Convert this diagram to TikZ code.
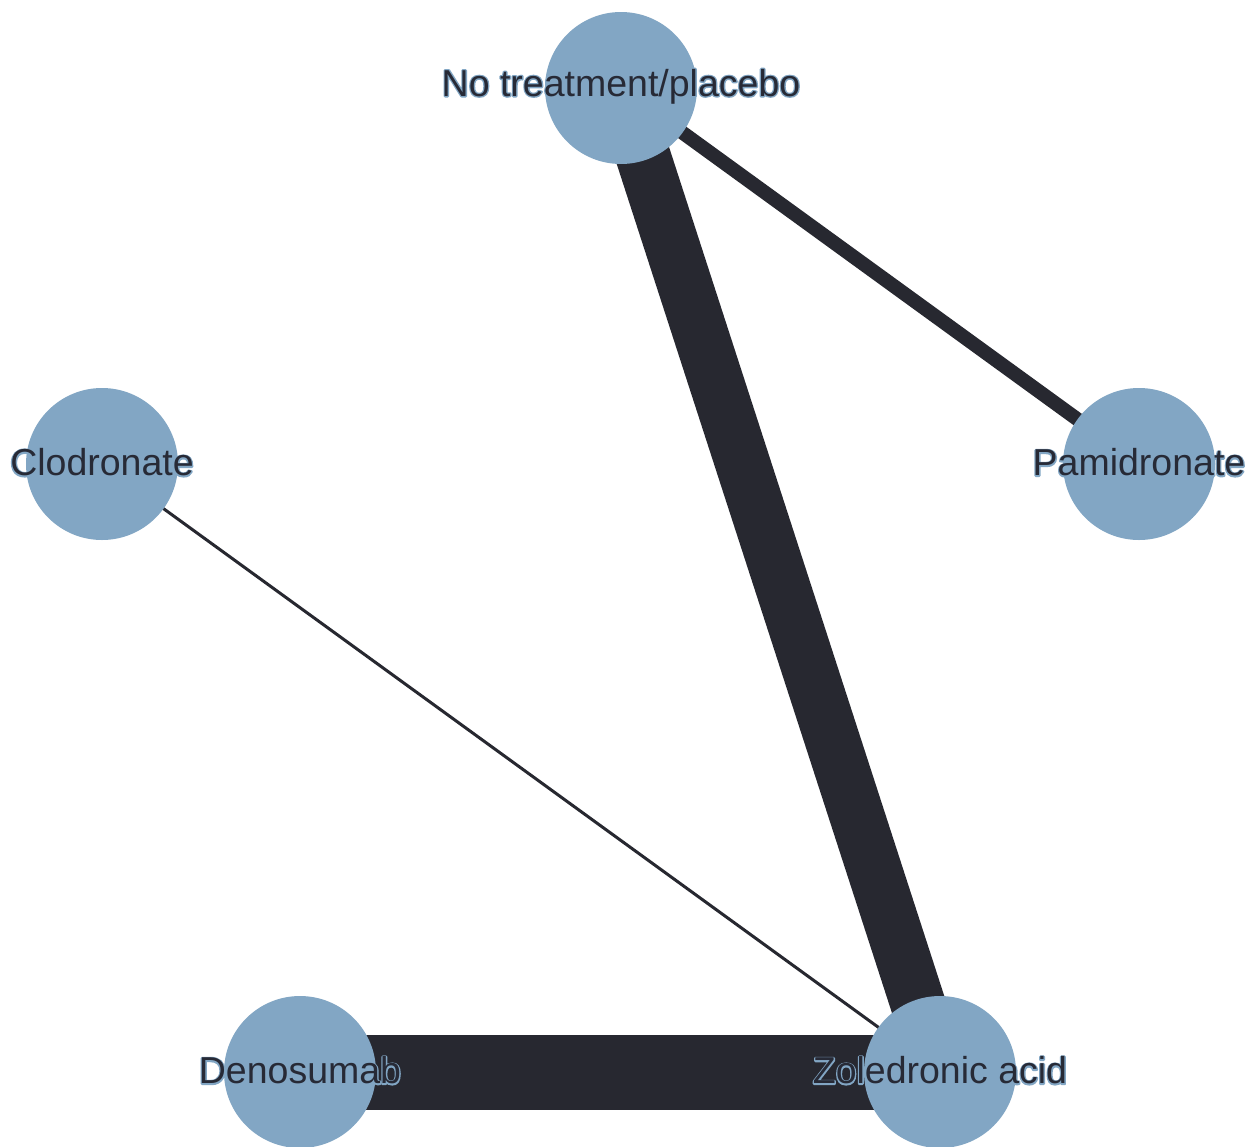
\documentclass[tikz,border=0pt]{standalone}
\usepackage{fontspec}
\setmainfont{Liberation Sans}
\definecolor{nodeblue}{HTML}{82A6C4}
\definecolor{edgedark}{HTML}{272830}
\definecolor{textdark}{HTML}{272A36}
% light outline drawn under the glyphs (stroke-only render mode)
\newcommand\outlineonly[1]{\special{pdf:literal direct 1 Tr 2.6 w 1 j 0.510 0.651 0.769 RG}#1\special{pdf:literal direct 0 Tr}}
\begin{document}
\begin{tikzpicture}[x=1pt,y=-1pt,
  vert/.style={circle,fill=nodeblue,minimum size=152pt,inner sep=0pt},
  edge/.style={draw=edgedark,line cap=butt},
  lbl/.style={font=\fontsize{37.5}{40}\selectfont,inner sep=0pt,anchor=center,text=textdark}]
\useasboundingbox (0,0) rectangle (1257,1146);
\fill[white] (0,0) rectangle (1257,1146);

\coordinate (pn) at (621,88);
\coordinate (cl) at (102,464);
\coordinate (pa) at (1139,464);
\coordinate (de) at (300,1072);
\coordinate (zo) at (940,1072);

% edges, width by number of comparisons
\draw[edge,line width=75pt] (de) -- (zo);
\draw[edge,line width=55pt] (pn) -- (zo);
\draw[edge,line width=14pt] (pn) -- (pa);
\draw[edge,line width=3pt] (cl) -- (zo);

\node[vert] (npn) at (pn) {};
\node[vert] (ncl) at (cl) {};
\node[vert] (npa) at (pa) {};
\node[vert] (nde) at (de) {};
\node[vert] (nzo) at (zo) {};

% labels: outline layer, then the filled text
\foreach \n/\t in {npn/No treatment\slash placebo,ncl/Clodronate,npa/Pamidronate,nde/Denosumab,nzo/Zoledronic acid}{
  \node[lbl] (o\n) at ([yshift=1.5pt]\n.center) {\outlineonly{\t}};
  \node[lbl] (t\n) at ([yshift=1.5pt]\n.center) {\t};
}
\end{tikzpicture}
\end{document}
